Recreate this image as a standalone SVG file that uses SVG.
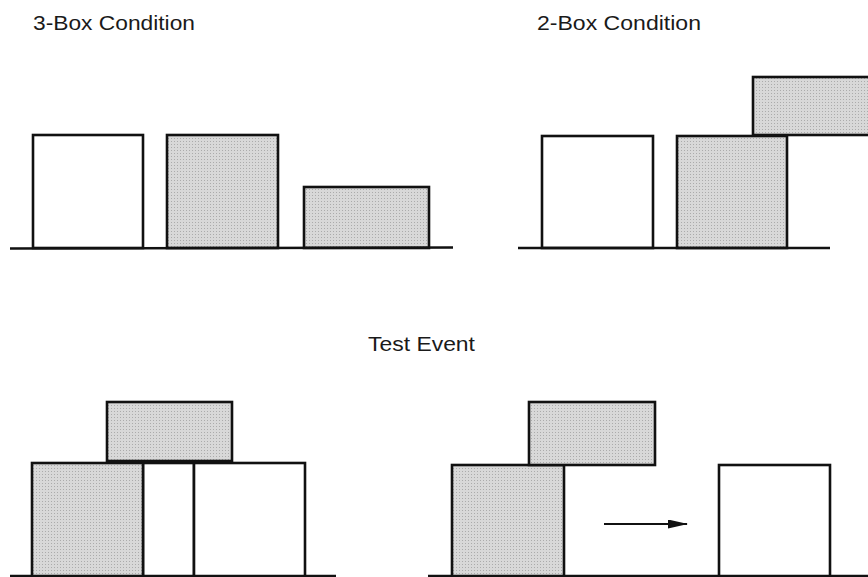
<svg xmlns="http://www.w3.org/2000/svg" width="868" height="577" viewBox="0 0 868 577">
<style>
.lbl{font-family:"Liberation Sans",Arial,sans-serif;font-size:21px;fill:#1a1a1a}
.w{fill:#ffffff;stroke:#111;stroke-width:2.6}
.g{fill:url(#stip);stroke:#111;stroke-width:2.6}
.base{stroke:#111;stroke-width:2.6;fill:none}
</style>
<defs>
<pattern id="stip" width="3" height="3" patternUnits="userSpaceOnUse">
<rect width="3" height="3" fill="#d8d8d8"/>
<rect width="1" height="1" fill="#ababab"/>
</pattern>
<marker id="ah" markerWidth="20" markerHeight="9" refX="19" refY="4.5" orient="auto" markerUnits="userSpaceOnUse">
<path d="M0,0 L20,4.5 L0,9 Z" fill="#111"/>
</marker>
</defs>
<rect width="868" height="577" fill="#ffffff"/>
<text class="lbl" x="33" y="30" textLength="162" lengthAdjust="spacingAndGlyphs">3-Box Condition</text>
<text class="lbl" x="537" y="30" textLength="164" lengthAdjust="spacingAndGlyphs">2-Box Condition</text>
<text class="lbl" x="368" y="351" textLength="107" lengthAdjust="spacingAndGlyphs">Test Event</text>

<g id="three-box">
<rect class="w" x="33" y="135" width="110" height="113"/>
<rect class="g" x="167" y="135" width="111" height="113"/>
<rect class="g" x="304" y="187" width="125" height="61"/>
<line class="base" x1="10" y1="248.5" x2="453" y2="247.5"/>
</g>

<g id="two-box">
<rect class="w" x="542" y="136" width="111" height="112"/>
<rect class="g" x="677" y="136" width="110" height="112"/>
<rect class="g" x="753" y="77" width="120" height="58"/>
<line class="base" x1="518" y1="248" x2="830" y2="248"/>
</g>

<g id="test-left">
<rect class="w" x="143" y="463" width="51" height="120"/>
<rect class="w" x="194" y="463" width="111" height="120"/>
<rect class="g" x="32" y="463" width="111" height="120"/>
<rect class="g" x="107" y="402" width="125" height="59"/>
<line class="base" x1="10" y1="576" x2="336" y2="576"/>
</g>

<g id="test-right">
<rect class="g" x="452" y="465" width="112" height="118"/>
<rect class="g" x="529" y="402" width="126" height="63"/>
<rect class="w" x="719" y="465" width="111" height="118"/>
<line class="base" x1="428" y1="576" x2="868" y2="576"/>
</g>

<g id="connectors">
<line x1="604" y1="524" x2="687" y2="524" stroke="#111" stroke-width="2.2" marker-end="url(#ah)"/>
</g>
</svg>
